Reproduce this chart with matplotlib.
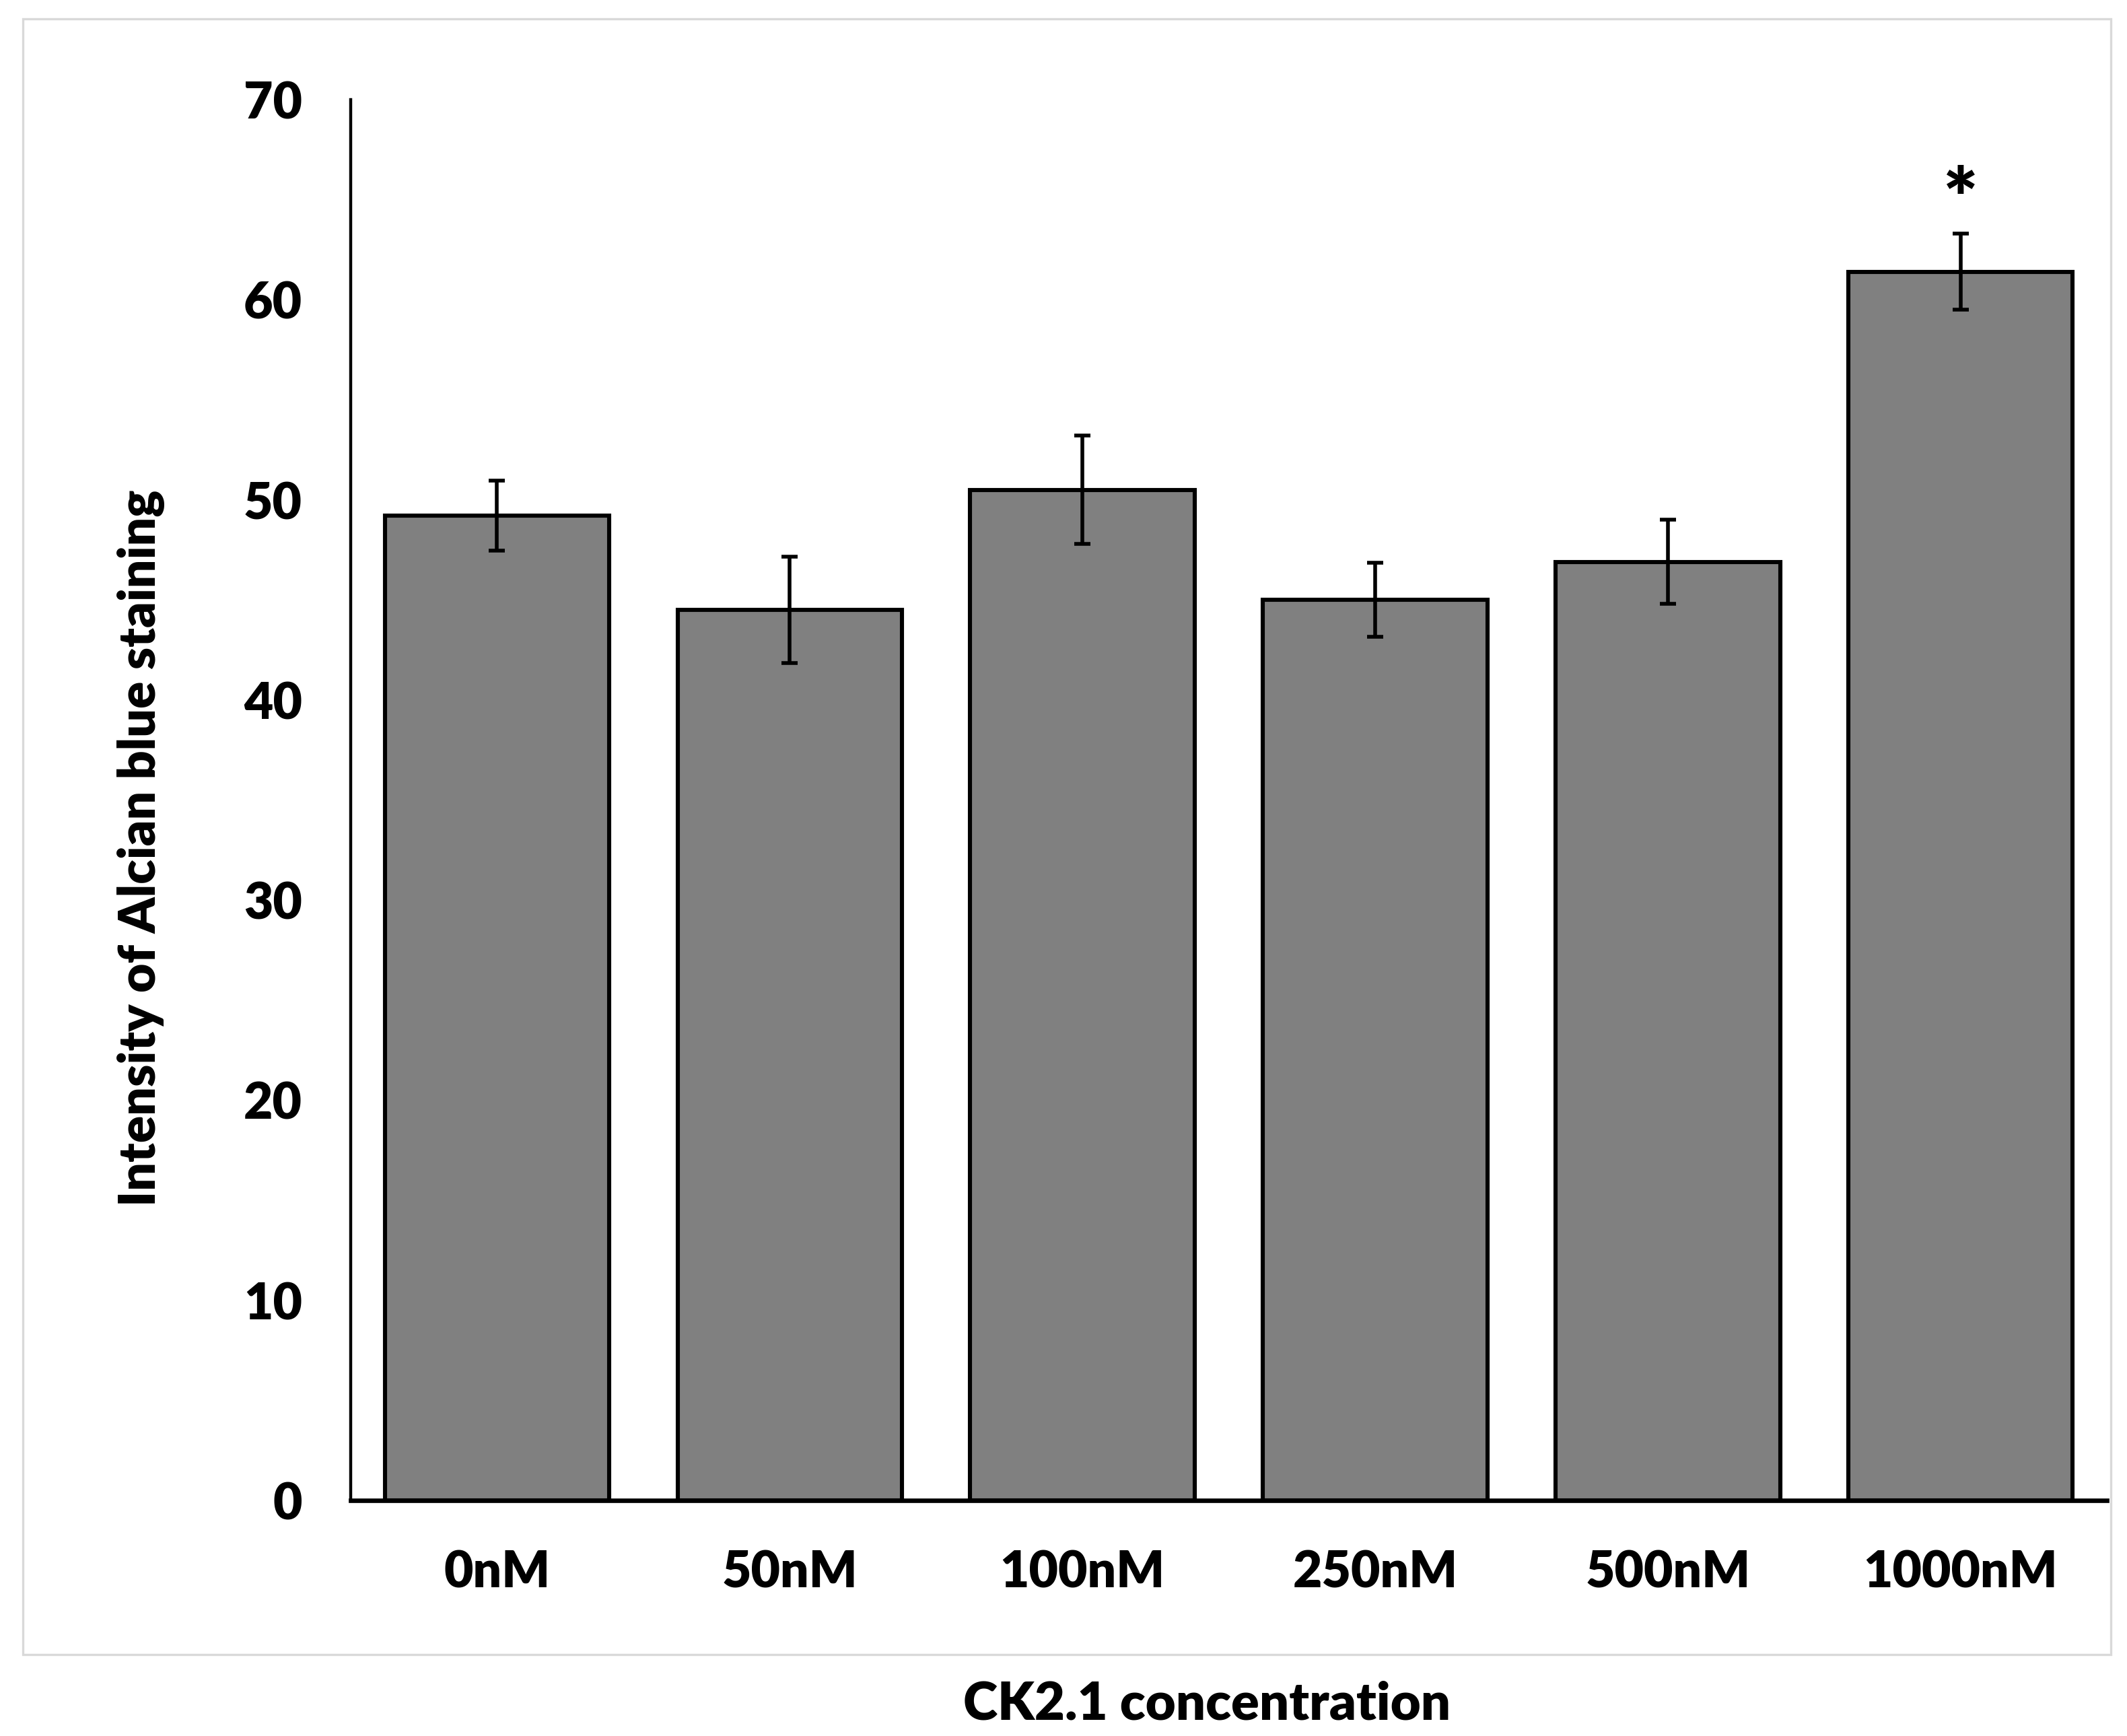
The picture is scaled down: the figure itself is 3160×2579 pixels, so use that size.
import matplotlib
matplotlib.use("Agg")
from matplotlib import pyplot as plt
from matplotlib.patches import Rectangle

# data
concentrations = ['0nM', '50nM', '100nM', '250nM', '500nM', '1000nM']
intensity = [49.2, 44.5, 50.5, 45.0, 46.9, 61.4]
errors = [1.75, 2.65, 2.7, 1.85, 2.1, 1.9]
significant = [False, False, False, False, False, True]
star_y = 63.6

plt.rcParams['font.family'] = ['Lato', 'DejaVu Sans']
W = 'heavy'

fig = plt.figure(figsize=(15.8, 12.895), dpi=200)
ax = fig.add_axes([0.1649, 0.1357, 0.8256, 0.8069])

x = list(range(len(concentrations)))
ax.bar(x, intensity, width=0.767, color='#808080', edgecolor='black',
       linewidth=2.2, zorder=2)
ax.errorbar(x, intensity, yerr=errors, fmt='none', ecolor='black',
            elinewidth=2.0, capsize=4.3, capthick=2.0, zorder=3)

for xi, sig in zip(x, significant):
    if sig:
        ax.text(xi, star_y, '*', ha='center', va='baseline',
                fontsize=44, fontweight=W)

ax.set_xlim(-0.5, 5.5)
ax.set_ylim(0, 70)
ax.set_yticks(range(0, 71, 10))
ax.set_xticks(x)
ax.set_xticklabels(concentrations)

for side in ['top', 'right']:
    ax.spines[side].set_visible(False)
ax.spines['left'].set_linewidth(1.6)
ax.spines['bottom'].set_linewidth(2.4)
ax.tick_params(axis='both', length=0, labelsize=27, pad=26)
for lbl in ax.get_xticklabels() + ax.get_yticklabels():
    lbl.set_fontweight(W)

ax.set_ylabel('Intensity of Alcian blue staining', fontsize=27,
              fontweight=W)
ax.yaxis.set_label_coords(-0.106, 0.466)

# light frame around the plot area, x label sits outside it
fig.patches.append(Rectangle((34 / 3160, 1 - 2458 / 2579), (3136 - 34) / 3160,
                             (2458 - 28) / 2579, transform=fig.transFigure,
                             fill=False, edgecolor='#d9d9d9', linewidth=1.2))
fig.text(1793 / 3160, 1 - 2532 / 2579, 'CK2.1 concentration', ha='center',
         va='center', fontsize=28, fontweight=W)

plt.savefig('out.png', dpi=200)
